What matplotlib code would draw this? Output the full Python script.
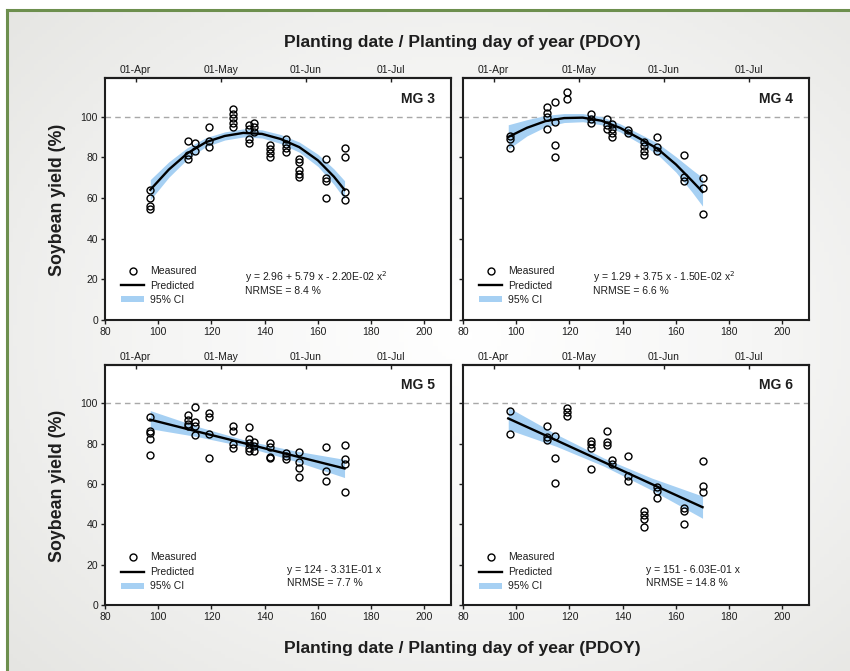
import numpy as np
import matplotlib.pyplot as plt
from matplotlib.lines import Line2D
from matplotlib.patches import Patch, Rectangle
from matplotlib.colors import LinearSegmentedColormap

plt.rcParams['font.family'] = ['Liberation Sans', 'DejaVu Sans']

# ---- data ----
mg3_doy = [97, 97, 97, 97, 111, 111, 111, 114, 114, 119, 119, 119,
           128, 128, 128, 128, 128, 134, 134, 134, 134, 136, 136, 136,
           142, 142, 142, 142, 148, 148, 148, 148, 153, 153, 153, 153, 153,
           163, 163, 163, 163, 170, 170, 170, 170]
mg3_yld = [64, 60, 56, 54.5, 88, 81, 79, 87, 83, 95, 88, 85,
           104, 101.5, 99.5, 97, 95, 96, 94, 89, 87, 97, 95, 92.5,
           86, 84, 82, 80, 89, 86.5, 84.5, 82.5, 79, 77.5, 74, 72, 70.5,
           79, 70, 68.5, 60, 84.5, 80, 63, 59]

mg4_doy = [97.5, 97.5, 97.5, 111.5, 111.5, 111.5, 111.5, 114.5, 114.5, 114.5, 114.5,
           119, 119, 128, 128, 128, 134, 134, 134, 136, 136, 136, 136,
           142, 142, 148, 148, 148, 148, 153, 153, 153, 163, 163, 163, 170, 170, 170]
mg4_yld = [90.5, 89, 84.5, 104.5, 102, 100, 94, 107, 97.5, 86, 80,
           112, 108.5, 101.5, 99, 97, 99, 96, 94, 96.5, 94, 92, 90,
           93.5, 92, 87.5, 85.5, 83, 81, 90, 85, 83, 81, 70.5, 68.5, 70, 65, 52]

mg5_doy = [97, 97, 97, 97, 97, 111, 111, 111, 111, 114, 114, 114, 114,
           119, 119, 119, 119, 128, 128, 128, 128, 134, 134, 134, 134, 134,
           136, 136, 136, 142, 142, 142, 142, 148, 148, 148, 153, 153, 153, 153,
           163, 163, 163, 170, 170, 170, 170]
mg5_yld = [93, 86.5, 85.5, 82.5, 74.5, 94, 91.5, 89.5, 89, 98, 90.5, 89, 84.5,
           95, 93, 85, 73, 89, 86.5, 80, 78, 88.5, 82.5, 80.5, 78, 76.5,
           81, 79, 76.5, 80.5, 78.5, 73.5, 73, 75.5, 74, 72.5, 76, 71, 68, 63.5,
           78.5, 66.5, 61.5, 79.5, 72.5, 70, 56]

mg6_doy = [97.5, 97.5, 111.5, 111.5, 111.5, 114.5, 114.5, 114.5, 119, 119, 119,
           128, 128, 128, 128, 134, 134, 134, 136, 136, 142, 142, 142,
           148, 148, 148, 148, 153, 153, 153, 163, 163, 163, 170, 170, 170]
mg6_yld = [96, 85, 89, 83.5, 82, 84, 73, 60.5, 97.5, 95.5, 93.5,
           81.5, 80, 78, 67.5, 86.5, 81, 79.5, 72, 70, 74, 64, 61.5,
           46.5, 44.5, 42.5, 38.5, 58.5, 56.5, 53, 48, 46.5, 40, 71.5, 59, 56]

# predicted curves and 95% CI
quad_x = [97, 104, 111, 118, 125, 132, 139, 146, 153, 160, 166, 170]
mg3_pred = [64, 74, 82, 87.5, 90.5, 92, 91.5, 89, 85, 78.5, 70.5, 64]
mg3_lo = [59, 70.2, 79.2, 85.3, 88.5, 90, 89.5, 86.8, 82.5, 75.5, 66.7, 59.5]
mg3_hi = [69, 77.8, 84.8, 89.7, 92.5, 94, 93.5, 91.2, 87.5, 81.5, 74.3, 68.5]
mg4_pred = [90, 94.5, 97.8, 99.3, 99.5, 98, 94.5, 89.5, 84.3, 76.5, 68.5, 63]
mg4_lo = [84, 90.5, 95, 97.1, 97.5, 96, 92.5, 87.2, 81.5, 72.7, 63, 56]
mg4_hi = [96, 98.5, 100.6, 101.5, 101.5, 100, 96.5, 91.8, 87.1, 80.3, 74, 70]

lin_x = [97, 115, 133, 151, 170]
mg5_pred = [91.9, 85.9, 80, 74, 67.7]
mg5_lo = [87.4, 83.4, 78.4, 71.5, 63.2]
mg5_hi = [96.4, 88.4, 81.6, 76.5, 72.2]
mg6_pred = [92.5, 81.7, 70.8, 59.9, 48.5]
mg6_lo = [87, 78.7, 68.8, 56.9, 43]
mg6_hi = [98, 84.7, 72.8, 62.9, 54]

# top date axis (positions as drawn in the figure)
date_pos = [91.5, 123.5, 155.5, 187.5]
date_lbl = ['01-Apr', '01-May', '01-Jun', '01-Jul']

labels = ['MG 3', 'MG 4', 'MG 5', 'MG 6']
equations = ['y = 2.96 + 5.79 x - 2.20E-02 x$^2$', 'y = 1.29 + 3.75 x - 1.50E-02 x$^2$',
             'y = 124 - 3.31E-01 x', 'y = 151 - 6.03E-01 x']
nrmse = ['NRMSE = 8.4 %', 'NRMSE = 6.6 %', 'NRMSE = 7.7 %', 'NRMSE = 14.8 %']

band_col = '#a6d0f3'
ink = '#1e1e1e'

fig = plt.figure(figsize=(8.5, 6.71), dpi=100)

# background with soft vignette and green frame
bg = fig.add_axes([0, 0, 1, 1], zorder=-10)
yy, xx = np.mgrid[0:1:200j, 0:1:200j]
r = np.sqrt((xx - 0.55) ** 2 + (yy - 0.5) ** 2)
cm = LinearSegmentedColormap.from_list('bg', ['#ffffff', '#f5f5f4', '#e5e5e2'])
bg.imshow(r, cmap=cm, extent=[0, 1, 0, 1], aspect='auto', origin='lower')
bg.add_patch(Rectangle((0, 1 - 10 / 671), 1, 1, color='white', transform=bg.transAxes))
bg.add_patch(Rectangle((0, 0), 7 / 850, 1, color='white', transform=bg.transAxes))
bg.set_xlim(0, 1)
bg.set_ylim(0, 1)
bg.axis('off')
fig.add_artist(Line2D([7 / 850, 7 / 850], [0, 1 - 10 / 671], color='#6d8f4e', lw=2.2))
fig.add_artist(Line2D([7 / 850, 1], [1 - 10 / 671, 1 - 10 / 671], color='#6d8f4e', lw=2.2))

lefts = [105 / 850, 463 / 850]
width = 346 / 850
bottoms = [(671 - 320) / 671, (671 - 605) / 671]
heights = [242 / 671, 240 / 671]

data = [(mg3_doy, mg3_yld, quad_x, mg3_pred, mg3_lo, mg3_hi),
        (mg4_doy, mg4_yld, quad_x, mg4_pred, mg4_lo, mg4_hi),
        (mg5_doy, mg5_yld, lin_x, mg5_pred, mg5_lo, mg5_hi),
        (mg6_doy, mg6_yld, lin_x, mg6_pred, mg6_lo, mg6_hi)]
eq_x = [0.405, 0.376, 0.526, 0.529]
eq_y = [(0.178, 0.12), (0.178, 0.12), (0.146, 0.092), (0.146, 0.092)]
leg_y = [0.045, 0.045, 0.04, 0.04]

for i, (doy, yld, fx, pred, lo, hi) in enumerate(data):
    row, col = divmod(i, 2)
    ax = fig.add_axes([lefts[col], bottoms[row], width, heights[row]])
    ax.set_facecolor('white')
    ax.fill_between(fx, lo, hi, color=band_col, lw=0, zorder=1)
    ax.plot(fx, pred, color='black', lw=1.7, zorder=2)
    ax.plot(doy, yld, 'o', mfc='none', mec='black', mew=1.0, ms=5, zorder=3)
    ax.axhline(100, color='#a8a8a8', lw=1, ls=(0, (4, 3)), zorder=0)
    ax.set_xlim(80, 210)
    ax.set_ylim(0, 119)
    ax.set_xticks(range(80, 201, 20))
    ax.set_yticks(range(0, 101, 20))
    ax.tick_params(direction='out', length=3, width=1, labelsize=7.5, pad=2,
                   color=ink, labelcolor=ink)
    if col == 1:
        ax.set_yticklabels([])
    for s in ax.spines.values():
        s.set_linewidth(1.5)
        s.set_color(ink)
    sec = ax.secondary_xaxis('top')
    sec.set_xticks(date_pos, labels=date_lbl)
    sec.tick_params(direction='in', length=3, width=1, labelsize=7.5, pad=2,
                    color=ink, labelcolor=ink)
    sec.spines['top'].set_linewidth(1.5)
    ax.text(0.955, 0.915, labels[i], transform=ax.transAxes, ha='right', va='center',
            fontsize=10, fontweight='bold', color=ink)
    ax.text(eq_x[i], eq_y[i][0], equations[i], transform=ax.transAxes, fontsize=7.5,
            va='center', color=ink)
    ax.text(eq_x[i], eq_y[i][1], nrmse[i], transform=ax.transAxes, fontsize=7.5,
            va='center', color=ink)
    handles = [Line2D([], [], ls='none', marker='o', mfc='none', mec='black', mew=1.0, ms=5),
               Line2D([], [], color='black', lw=1.7),
               Patch(facecolor=band_col, edgecolor='none')]
    ax.legend(handles, ['Measured', 'Predicted', '95% CI'], loc='lower left',
              bbox_to_anchor=(0.035, leg_y[i]), borderaxespad=0, frameon=False,
              fontsize=7.5, handlelength=2.2, handleheight=0.5, labelspacing=0.42,
              handletextpad=0.6, labelcolor=ink)

fig.text(0.544, 1 - 42 / 671, 'Planting date / Planting day of year (PDOY)', ha='center',
         va='center', fontsize=12.6, fontweight='bold', color=ink)
fig.text(0.544, 1 - 648 / 671, 'Planting date / Planting day of year (PDOY)', ha='center',
         va='center', fontsize=12.6, fontweight='bold', color=ink)
for yc in [200, 486]:
    fig.text(58 / 850, 1 - yc / 671, 'Soybean yield (%)', rotation=90, ha='center',
             va='center', fontsize=12.8, fontweight='bold', color=ink)

fig.savefig('out.png', dpi=100)
